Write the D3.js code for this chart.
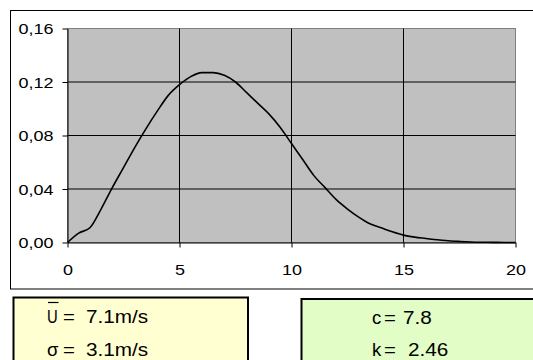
<!DOCTYPE html>
<html>
<head>
<meta charset="utf-8">
<script src="https://cdn.jsdelivr.net/npm/d3@7/dist/d3.min.js"></script>
<style>
  html, body { margin: 0; padding: 0; background: #fff; }
  svg { display: block; }
  text { font-family: "Liberation Sans", Arial, sans-serif; fill: #000; }
</style>
</head>
<body>
<svg id="chart" width="533" height="360"></svg>
<script>
// Wind speed (m/s) and probability density
const speeds = [0, 0.5, 1, 1.5, 2, 2.5, 3, 3.5, 4, 4.5, 5, 5.5, 6, 6.5, 7, 7.5, 8, 8.5, 9, 9.5,
                10, 10.5, 11, 11.5, 12, 12.5, 13, 13.5, 14, 14.5, 15, 15.5, 16, 16.5, 17, 17.5, 18, 18.5, 19, 19.5, 20];
const density = [0, 0.007, 0.011, 0.025, 0.041, 0.056, 0.071, 0.085, 0.098, 0.110, 0.118, 0.124, 0.127, 0.127,
                 0.125, 0.120, 0.112, 0.104, 0.096, 0.086, 0.074, 0.062, 0.050, 0.041, 0.032, 0.025, 0.019,
                 0.014, 0.011, 0.008, 0.0055, 0.004, 0.003, 0.002, 0.0013, 0.0008, 0.0004, 0.0002, 0.0001, 0, 0];

const xTicks = [0, 5, 10, 15, 20];
const yTicks = [0, 0.04, 0.08, 0.12, 0.16];
const yTickLabels = ["0,00", "0,04", "0,08", "0,12", "0,16"];

// Statistics shown in the boxes below the chart
const leftBoxLines = [["U", "=", "7.1m/s"], ["σ", "=", "3.1m/s"]];
const rightBoxLines = [["c", "=", "7.8"], ["k", "=", "2.46"]];

const svg = d3.select("#chart");
const stretch = 1.2;

const x = d3.scaleLinear().domain([0, 20]).range([67.5, 515.5]);
const y = d3.scaleLinear().domain([0, 0.16]).range([242.5, 28.5]);

// Chart frame
svg.append("rect")
  .attr("x", 10.5).attr("y", 10.5).attr("width", 540).attr("height", 278.5)
  .attr("fill", "#fff").attr("stroke", "#000").attr("stroke-width", 1);

// Plot area
svg.append("rect")
  .attr("x", x(0)).attr("y", y(0.16))
  .attr("width", x(20) - x(0)).attr("height", y(0) - y(0.16))
  .attr("fill", "#c0c0c0").attr("stroke", "#808080").attr("stroke-width", 1);

// Gridlines
svg.append("g").selectAll("line.h").data(yTicks.filter(d => d > 0 && d < 0.16)).join("line")
  .attr("x1", x(0)).attr("x2", x(20))
  .attr("y1", d => y(d)).attr("y2", d => y(d))
  .attr("stroke", "#000").attr("stroke-width", 1);
svg.append("g").selectAll("line.v").data(xTicks.filter(d => d > 0 && d < 20)).join("line")
  .attr("x1", d => x(d)).attr("x2", d => x(d))
  .attr("y1", y(0)).attr("y2", y(0.16))
  .attr("stroke", "#000").attr("stroke-width", 1);

// Axes
const yAxis = svg.append("g").attr("transform", `translate(${x(0)},0)`)
  .call(d3.axisLeft(y).tickValues(yTicks).tickSize(5).tickSizeOuter(0)
        .tickFormat((d, i) => yTickLabels[i]));
yAxis.select(".domain").attr("stroke", "#000");
yAxis.selectAll(".tick line").attr("stroke", "#000");
yAxis.selectAll(".tick text")
  .attr("x", null).attr("dy", "0.36em")
  .attr("transform", `translate(-14,0) scale(${stretch},1)`)
  .style("font-size", "15px").attr("fill", "#000")
  .style("font-family", '"Liberation Sans", Arial, sans-serif');

const xAxis = svg.append("g").attr("transform", `translate(0,${y(0)})`)
  .call(d3.axisBottom(x).tickValues(xTicks).tickSize(5).tickSizeOuter(0).tickFormat(d3.format("d")));
xAxis.select(".domain").attr("stroke", "#000");
xAxis.selectAll(".tick line").attr("stroke", "#000");
xAxis.selectAll(".tick text")
  .attr("y", null).attr("dy", null)
  .attr("transform", `translate(0,32.5) scale(${stretch},1)`)
  .style("font-size", "15px").attr("fill", "#000")
  .style("font-family", '"Liberation Sans", Arial, sans-serif');

// Density curve
const line = d3.line().x((d, i) => x(speeds[i])).y(d => y(d)).curve(d3.curveMonotoneX);
svg.append("path").datum(density)
  .attr("d", line).attr("fill", "none")
  .attr("stroke", "#000").attr("stroke-width", 1.6).attr("stroke-linejoin", "round");

// Statistic boxes
function box(x0, y0, w, h, fill) {
  svg.append("rect").attr("x", x0).attr("y", y0).attr("width", w).attr("height", h)
    .attr("fill", fill).attr("stroke", "#000").attr("stroke-width", 2);
}
box(13.5, 297.5, 234.5, 70, "#ffffd2");
box(301.5, 299, 240, 70, "#e2fdc6");

function putText(str, tx, ty, size, sx) {
  return svg.append("text")
    .attr("transform", `translate(${tx},${ty}) scale(${sx},1)`)
    .style("font-size", size + "px").text(str);
}

const boxFont = 18.5, boxStretch = 1.12;
const rowsY = [323, 356];
leftBoxLines.forEach((parts, i) => {
  putText(parts[0], 47, rowsY[i], boxFont, i === 0 ? 0.8 : 1);
  putText(parts[1], 63, rowsY[i], boxFont, 1.1);
  putText(parts[2], 86, rowsY[i], boxFont, boxStretch);
});
// Overline marking the mean speed symbol
svg.append("line").attr("x1", 48).attr("x2", 58.5).attr("y1", 302.5).attr("y2", 302.5)
  .attr("stroke", "#000").attr("stroke-width", 1.2);

rightBoxLines.forEach((parts, i) => {
  const ty = rowsY[i] + (i === 0 ? 1 : 0);
  putText(parts[0], 372, ty, boxFont, 1);
  putText(parts[1], 384, ty, boxFont, 1.1);
  putText(parts[2], i === 0 ? 403 : 408, ty, boxFont, boxStretch);
});
</script>
</body>
</html>
